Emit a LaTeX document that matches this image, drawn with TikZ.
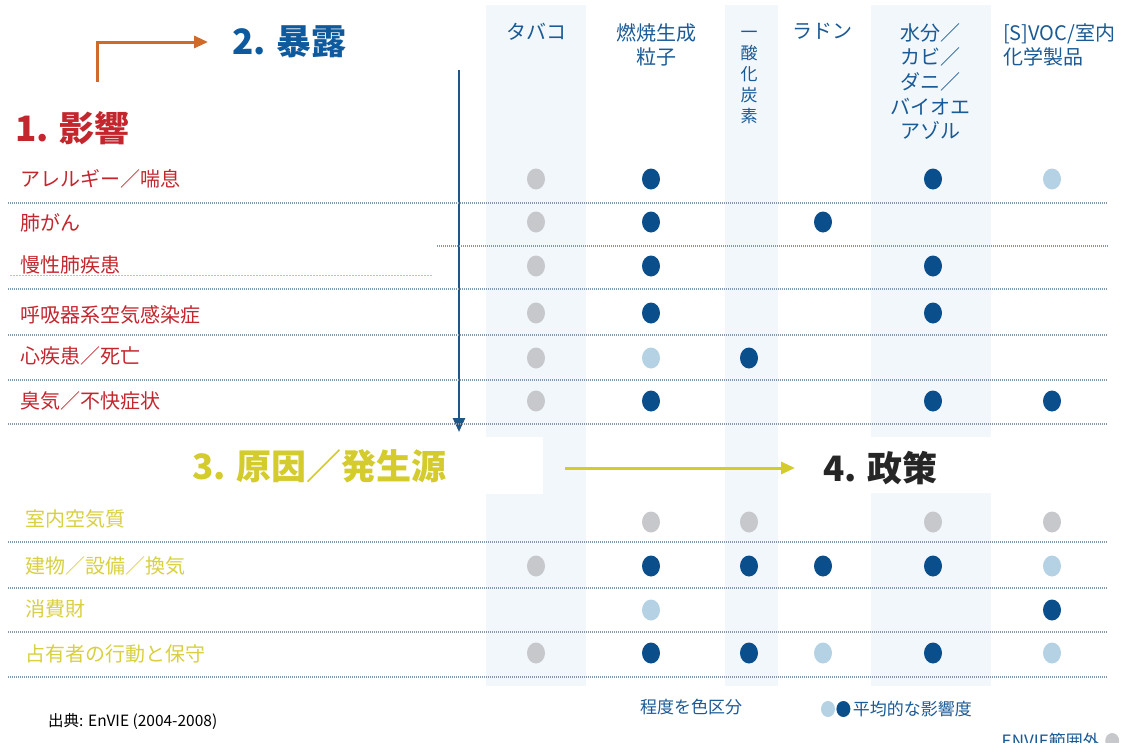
\documentclass[tikz,border=0pt]{standalone}
\usepackage{fontspec}
\setmainfont{Noto Sans CJK JP}
\usetikzlibrary{positioning,shapes.geometric,arrows.meta}
\definecolor{hdrblue}{HTML}{1A5A96}
\definecolor{titleblue}{HTML}{0E5A9E}
\definecolor{effred}{HTML}{C4262E}
\definecolor{srcyellow}{HTML}{D4CB2C}
\definecolor{labyellow}{HTML}{D8D040}
\definecolor{arrorange}{HTML}{CF6A2A}
\definecolor{arrblue}{HTML}{1F5587}
\definecolor{dotdark}{HTML}{0B4E8C}
\definecolor{dotlight}{HTML}{B4D2E4}
\definecolor{dotgray}{HTML}{C6C8CC}
\definecolor{bandblue}{HTML}{F2F7FB}
\definecolor{lineclr}{HTML}{8597AA}
\begin{document}
\begin{tikzpicture}
[
    x=1pt, y=-1pt,
    every node/.style={inner sep=0pt},
    head/.style={text=hdrblue, font=\fontsize{20}{24.7}\selectfont, align=center, anchor=north},
    title/.style={font=\fontsize{35}{40}\selectfont\bfseries, anchor=west},
    effect/.style={text=effred, font=\fontsize{20}{24}\selectfont, anchor=west},
    source/.style={text=labyellow, font=\fontsize{20}{24}\selectfont, anchor=west},
    legend/.style={text=hdrblue, font=\fontsize{17}{20}\selectfont},
    dot/.style={ellipse, minimum width=18pt, minimum height=21pt},
    legdot/.style={ellipse, minimum width=14pt, minimum height=16pt},
    rowline/.style={draw=lineclr, line width=1.3pt, dash pattern=on 1pt off 1pt},
    flow/.style={line width=3pt, -{Triangle[length=14pt,width=12pt]}},
]
\useasboundingbox (0,0) rectangle (1121,742);
\fill[bandblue] (486,5) rectangle (586,686);
\fill[bandblue] (725,5) rectangle (778,686);
\fill[bandblue] (871,5) rectangle (991,686);
\fill[white] (160,437) rectangle (543,494);
\fill[white] (800,437) rectangle (1000,493);

\node[head] (tobacco) at (536,23) {タバコ};
\node[head] (combust) at (656,23) {燃焼生成\\粒子};
\node[head, font=\fontsize{17}{21}\selectfont] (co) at (749,24) {\vphantom{酸}一\\酸\\化\\炭\\素};
\node[head] (radon) at (822,23) {ラドン};
\node[head] (mould) at (930,23) {水分／\\カビ／\\ダニ／\\バイオエ\\アゾル};
\node[head, align=left, anchor=north west] (voc) at (1003,23) {[S]VOC/室内\\化学製品};

\node[title, text=effred] (impact) at (15,128) {1. 影響};
\node[title, text=titleblue] (expo) at (232,42) {2. 暴露};
\node[title, text=srcyellow] (cause) at (192,466) {3. 原因／発生源};
\node[title, text=black!85] (policy) at (823,468) {4. 政策};

\coordinate (bend) at (97,82);
\draw[flow, arrorange] (bend) |- (expo.west) [shorten >=24pt];
\coordinate (vtop) at (459,70);
\coordinate (vbot) at (459,432);
\draw[flow, arrblue, line width=2.5pt] (vtop) -- (vbot);
\coordinate (ystart) at (565,468);
\draw[flow, srcyellow, shorten >=28pt] (ystart) -- (policy.west);

\node[effect] (e1) at (20,179) {アレルギー／喘息};
\node[effect] (e2) at (20,223) {肺がん};
\node[effect] (e3) at (20,265) {慢性肺疾患};
\node[effect] (e4) at (20,315) {呼吸器系空気感染症};
\node[effect] (e5) at (20,356) {心疾患／死亡};
\node[effect] (e6) at (20,401) {臭気／不快症状};
\node[source] (s1) at (25,519) {室内空気質};
\node[source] (s2) at (25,566) {建物／設備／換気};
\node[source] (s3) at (25,609) {消費財};
\node[source] (s4) at (25,654) {占有者の行動と保守};

\draw[rowline] (8,203) -- (1108,203);
\draw[rowline] (437,246) -- (1108,246);
\draw[draw=arrorange!50, line width=1pt, dash pattern=on 1.5pt off 1.5pt] (10,275) -- (432,275);
\foreach \y in {289,335,380,424,542,588,632,677}
    \draw[rowline] (8,\y) -- (1108,\y);

\foreach \c/\x in {1/536,2/651,3/749,4/823,5/933,6/1052}
    \coordinate (c\c) at (\x,0);
\foreach \r/\y in {1/179,2/222,3/266,4/313,5/358,6/401,7/522,8/566,9/610,10/653}
    \coordinate (r\r) at (0,\y);
\foreach \r/\c/\f in {1/1/dotgray,1/2/dotdark,1/5/dotdark,1/6/dotlight,
    2/1/dotgray,2/2/dotdark,2/4/dotdark,
    3/1/dotgray,3/2/dotdark,3/5/dotdark,
    4/1/dotgray,4/2/dotdark,4/5/dotdark,
    5/1/dotgray,5/2/dotlight,5/3/dotdark,
    6/1/dotgray,6/2/dotdark,6/5/dotdark,6/6/dotdark,
    7/2/dotgray,7/3/dotgray,7/5/dotgray,7/6/dotgray,
    8/1/dotgray,8/2/dotdark,8/3/dotdark,8/4/dotdark,8/5/dotdark,8/6/dotlight,
    9/2/dotlight,9/6/dotdark,
    10/1/dotgray,10/2/dotdark,10/3/dotdark,10/4/dotlight,10/5/dotdark,10/6/dotlight}
    \node[dot, fill=\f] (d\r-\c) at (c\c |- r\r) {};

\node[legend] (grade) at (691,707) {程度を色区分};
\node[legdot, fill=dotlight] (lg1) at (828,709) {};
\node[legdot, fill=dotdark, right=1pt of lg1] (lg2) {};
\node[legend, right=2pt of lg2] (avg) {平均的な影響度};
\node[legend, anchor=east] (outside) at (1100,741) {ENVIE範囲外};
\node[legdot, fill=dotgray, right=5pt of outside] (lg3) {};
\node[anchor=west, font=\fontsize{15.5}{18}\selectfont] (cite) at (48,721) {出典: EnVIE (2004-2008)};
\end{tikzpicture}
\end{document}
